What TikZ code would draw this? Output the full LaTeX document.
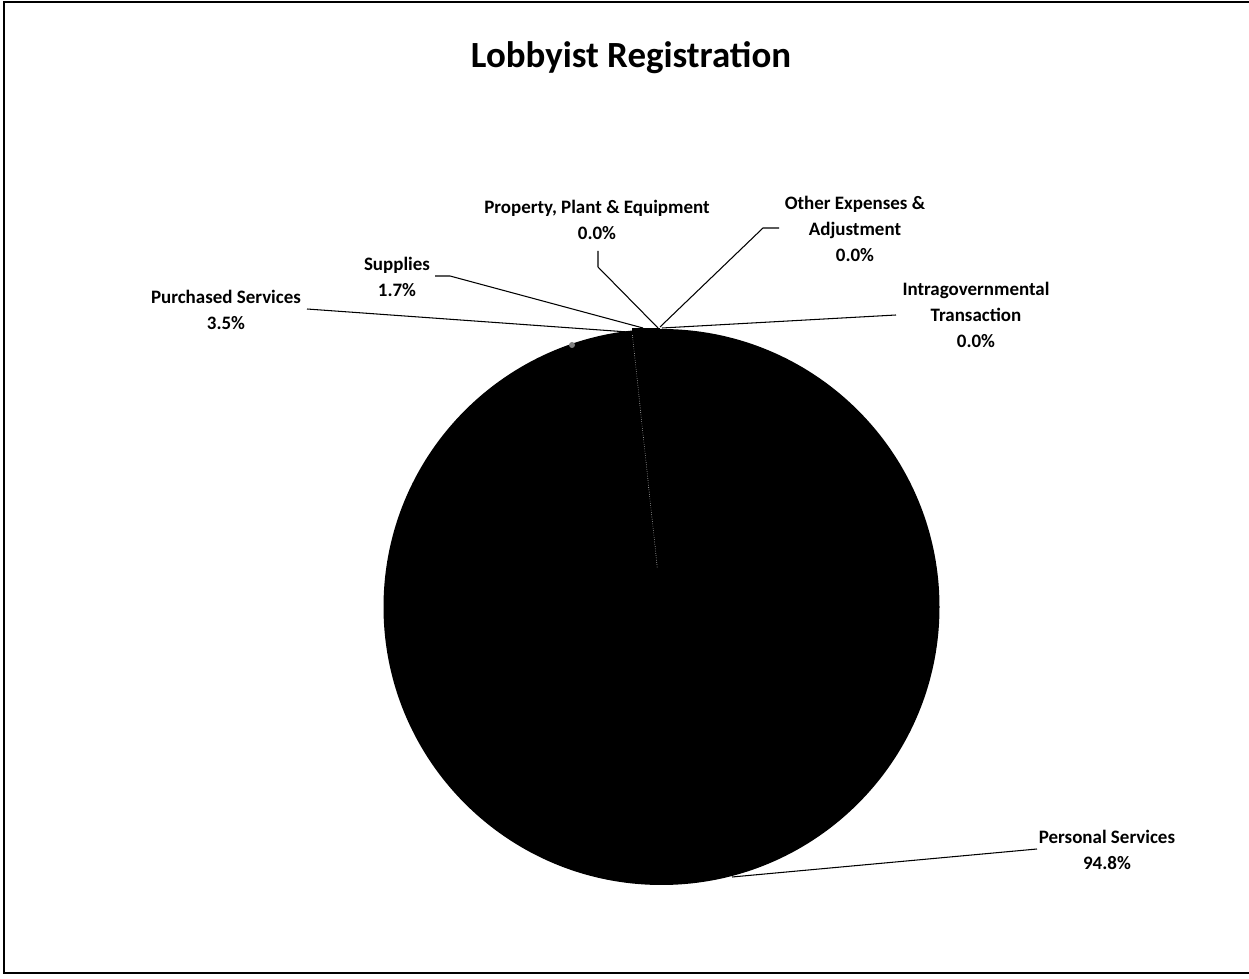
\documentclass[tikz,border=0pt]{standalone}
\usepackage{fontspec}
\setmainfont{Carlito}
\usetikzlibrary{calc}
\tikzset{
  lbl/.style={
    align=center,
    inner sep=0pt,
    font=\bfseries\fontsize{10.8}{15}\selectfont},
  lead/.style={
    line width=0.6pt,
    line join=round}
  }
\begin{document}
\begin{tikzpicture}[x=0.02cm,y=-0.02cm]
    \useasboundingbox (0,0) rectangle (1249,979);
    \draw [line width=1.3pt] (1249,2) -- (4,2) -- (4,973) -- (1249,973);
    \node (title) at (631,58) {\bfseries\fontsize{21}{24}\selectfont Lobbyist Registration};
    % pie, all slices black (y axis points down, so angles are negated)
    \coordinate (c) at (661.5,607);
    \fill (c) circle (278);
    \fill (632,328) rectangle (660,334);
    \draw [white, line width=0.3pt, densely dotted] ($(c)+(-96.1:40)$) -- ++(-96.1:234);
    \fill [gray] (572,345) circle (3);
    % labels
    \node [lbl] (ppe) at (597,220) {Property, Plant \& Equipment\\0.0\%};
    \node [lbl] (oth) at (855,229) {Other Expenses \&\\Adjustment\\0.0\%};
    \node [lbl] (sup) at (397,277) {Supplies\\1.7\%};
    \node [lbl] (pur) at (226,310) {Purchased Services\\3.5\%};
    \node [lbl] (intra) at (976,315) {Intragovernmental\\Transaction\\0.0\%};
    \node [lbl] (pers) at (1107,850) {Personal Services\\94.8\%};
    % leader lines
    \coordinate (ppe-out) at (598,251);
    \coordinate (ppe-in) at (658,328);
    \coordinate (oth-out) at (779,228);
    \coordinate (oth-in) at (660,327);
    \coordinate (sup-out) at (435,276);
    \coordinate (sup-in) at (643,328);
    \coordinate (pur-out) at (307,309);
    \coordinate (pur-in) at (628,332);
    \coordinate (intra-out) at (896,315);
    \coordinate (intra-in) at (662,328);
    \coordinate (pers-out) at (1037,849);
    \coordinate (pers-in) at (732,877);
    \draw [lead] (ppe-out) -- ++(0,16) -- (ppe-in);
    \draw [lead] (oth-out) -- ++(-16,0) -- (oth-in);
    \draw [lead] (sup-out) -- ++(15,0) -- (sup-in);
    \draw [lead] (pur-out) -- (pur-in);
    \draw [lead] (intra-out) -- (intra-in);
    \draw [lead] (pers-out) -- (pers-in);
\end{tikzpicture}
\end{document}
